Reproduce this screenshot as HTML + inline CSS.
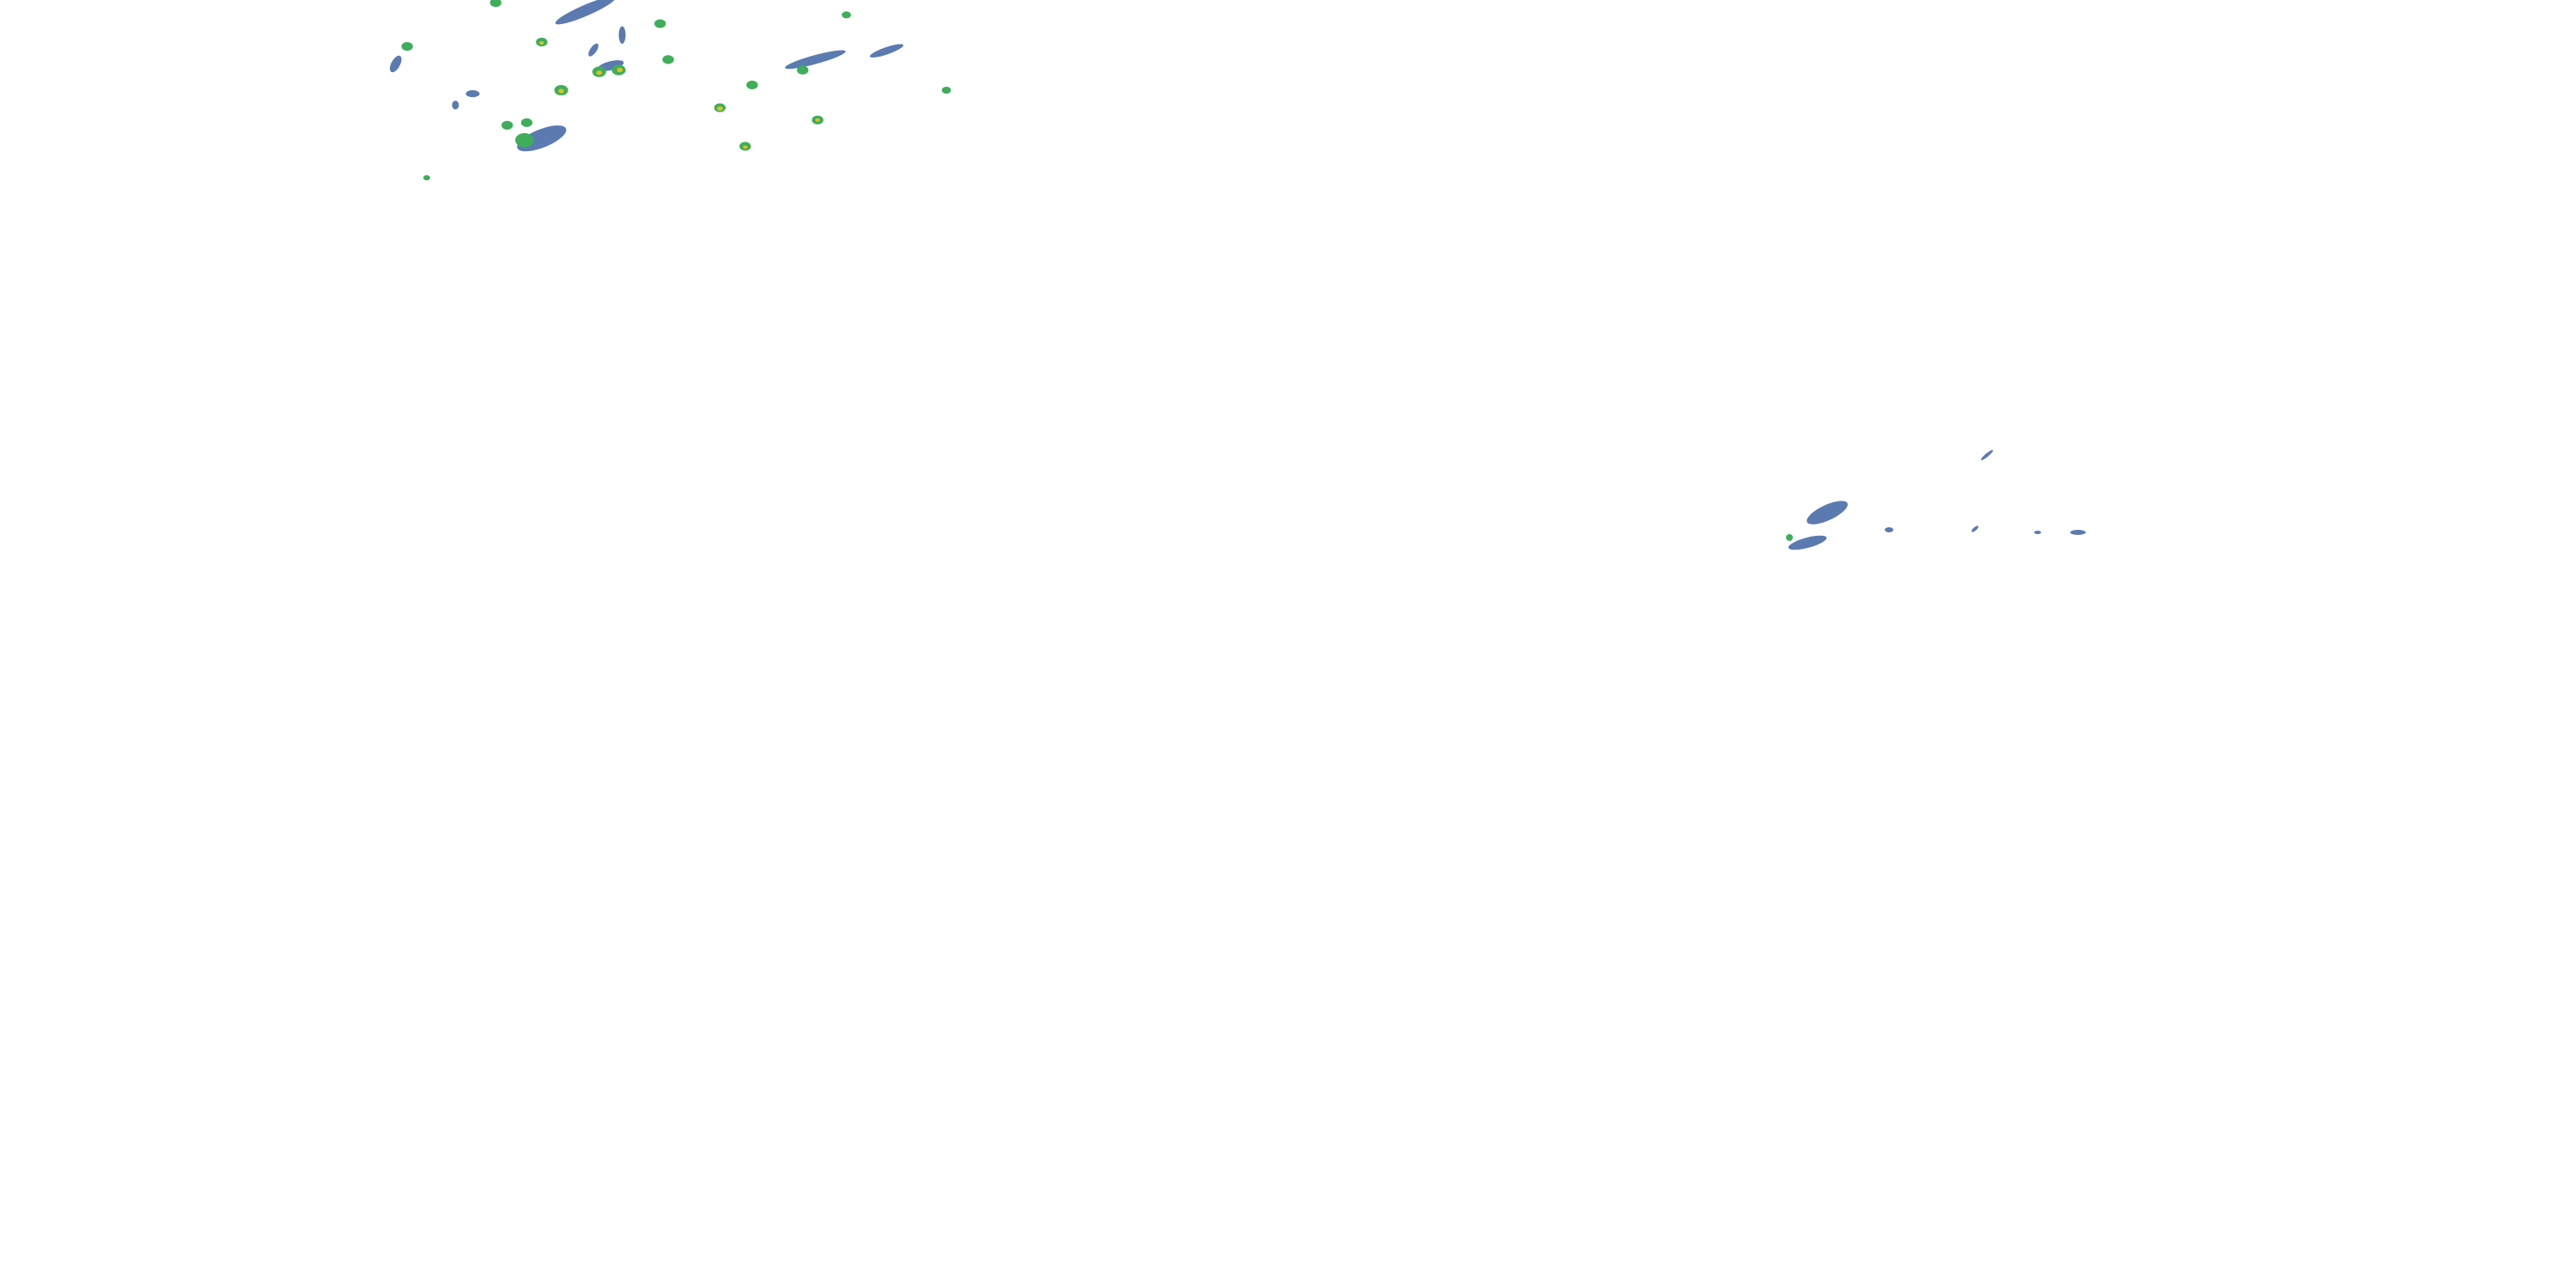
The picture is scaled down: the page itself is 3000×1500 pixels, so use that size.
<!DOCTYPE html>
<html><head><meta charset="utf-8"><style>html,body{margin:0;padding:0;background:#fff;width:3000px;height:1500px;overflow:hidden}</style></head>
<body>
<svg width="3000" height="1500" xmlns="http://www.w3.org/2000/svg">
<g transform="translate(430,0) scale(1.339,1.02) translate(-430,0)">
<g fill="#5b7bb0">
<ellipse cx="618" cy="12" rx="30" ry="6" transform="rotate(-30 618 12)"/>
<ellipse cx="580" cy="158" rx="24" ry="10" transform="rotate(-30 580 158)"/>
<ellipse cx="818" cy="68" rx="28" ry="5" transform="rotate(-20 818 68)"/>
<ellipse cx="880" cy="58" rx="16" ry="4" transform="rotate(-25 880 58)"/>
<ellipse cx="453" cy="73" rx="4" ry="10" transform="rotate(20 453 73)"/>
<ellipse cx="640" cy="75" rx="12" ry="5" transform="rotate(-20 640 75)"/>
<ellipse cx="650" cy="40" rx="3" ry="10"/>
<ellipse cx="520" cy="107" rx="6" ry="4"/>
<ellipse cx="505" cy="120" rx="3" ry="5"/>
<ellipse cx="625" cy="57" rx="3" ry="8" transform="rotate(25 625 57)"/>
</g>
<g fill="#3fae5a">
<circle cx="580" cy="48" r="5"/><circle cx="463" cy="53" r="5"/>
<circle cx="647" cy="80" r="6"/><circle cx="630" cy="82" r="6"/>
<circle cx="597" cy="103" r="6"/><circle cx="735" cy="123" r="5"/>
<circle cx="757" cy="167" r="5"/><circle cx="820" cy="137" r="5"/>
<circle cx="763" cy="97" r="5"/><circle cx="683" cy="27" r="5"/>
<circle cx="690" cy="68" r="5"/><circle cx="807" cy="80" r="5"/>
<circle cx="567" cy="140" r="5"/><circle cx="550" cy="143" r="5"/>
<circle cx="540" cy="3" r="5"/><circle cx="845" cy="17" r="4"/>
<circle cx="932" cy="103" r="4"/><circle cx="565" cy="160" r="8"/>
<circle cx="480" cy="203" r="3"/>
</g>
<g fill="#e0c020">
<circle cx="648" cy="80" r="2.5"/><circle cx="630" cy="83" r="2.5"/>
<circle cx="597" cy="104" r="2.5"/><circle cx="735" cy="124" r="2.5"/>
<circle cx="580" cy="49" r="2"/><circle cx="757" cy="168" r="2"/><circle cx="820" cy="137" r="2"/>
</g>
</g>
<g fill="#5b7bb0">
<ellipse cx="2128" cy="597" rx="26" ry="9" transform="rotate(-25 2128 597)"/>
<ellipse cx="2105" cy="632" rx="23" ry="6" transform="rotate(-15 2105 632)"/>
<ellipse cx="2200" cy="617" rx="5" ry="3"/>
<ellipse cx="2300" cy="616" rx="5" ry="2" transform="rotate(-40 2300 616)"/>
<ellipse cx="2314" cy="530" rx="9" ry="2" transform="rotate(-40 2314 530)"/>
<ellipse cx="2420" cy="620" rx="9" ry="3"/>
<ellipse cx="2373" cy="620" rx="4" ry="2"/>
</g>
<circle cx="2084" cy="626" r="4" fill="#3fae5a"/>
</svg>
</body></html>
